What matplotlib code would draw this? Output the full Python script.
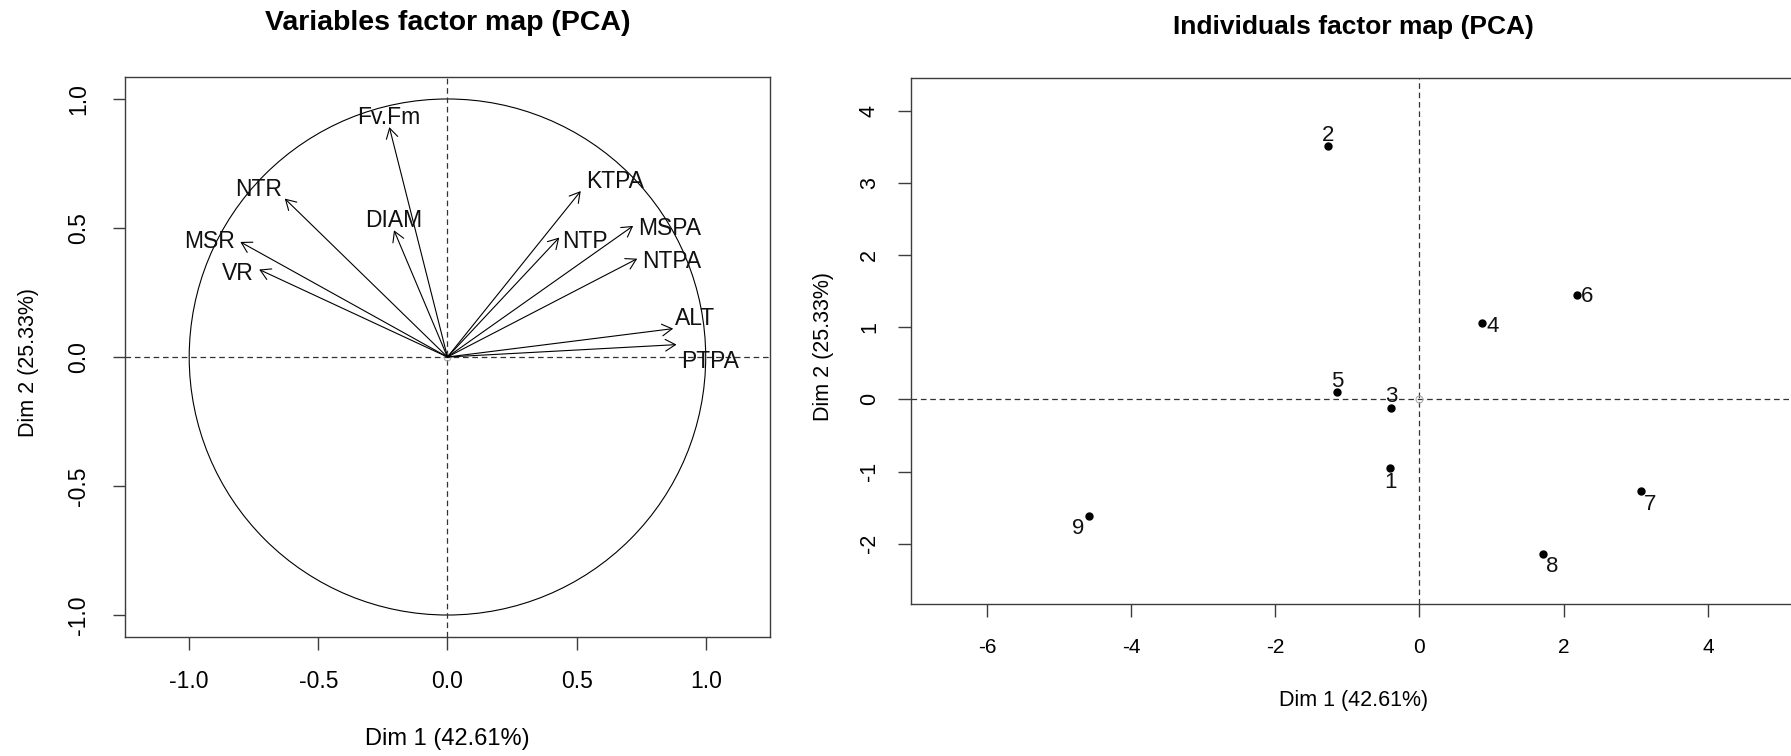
import matplotlib
matplotlib.use("Agg")
import matplotlib.pyplot as plt
from matplotlib.patches import Circle
from matplotlib import font_manager

# ---- variables (correlation circle) ----
var_names = ["Fv.Fm", "NTR", "DIAM", "MSR", "VR", "KTPA", "NTP", "MSPA", "NTPA", "ALT", "PTPA"]
var_dim1 = [-0.225, -0.630, -0.207, -0.802, -0.729, 0.516, 0.433, 0.719, 0.735, 0.874, 0.887]
var_dim2 = [0.891, 0.614, 0.491, 0.446, 0.339, 0.643, 0.463, 0.508, 0.381, 0.110, 0.048]

# ---- individuals ----
ind_names = ["1", "2", "3", "4", "5", "6", "7", "8", "9"]
ind_dim1 = [-0.409, -1.265, -0.391, 0.862, -1.140, 2.183, 3.068, 1.709, -4.577]
ind_dim2 = [-0.956, 3.510, -0.116, 1.054, 0.097, 1.449, -1.266, -2.138, -1.616]

dim1_label = "Dim 1 (42.61%)"
dim2_label = "Dim 2 (25.33%)"
var_ticks = [-1.0, -0.5, 0.0, 0.5, 1.0]
ind_xticks = [-6, -4, -2, 0, 2, 4]
ind_yticks = [-2, -1, 0, 1, 2, 3, 4]

# label placement (pixel offsets from each mark, x right / y up)
var_label_off = {"Fv.Fm": (-1, 10), "NTR": (-26, 9), "DIAM": (0, 10), "MSR": (-31, 0),
                 "VR": (-21, -4), "KTPA": (34, 10), "NTP": (26, -4), "MSPA": (36, -3),
                 "NTPA": (34, -3), "ALT": (22, 10), "PTPA": (34, -17)}
ind_label_off = {"1": (0, -14), "2": (0, 10), "3": (0, 11), "4": (11.5, -3), "5": (0, 10.5),
                 "6": (10.5, -2), "7": (9.5, -13.3), "8": (9.5, -13), "9": (-11.5, -13)}

plt.rcParams["font.family"] = ["Liberation Sans", "DejaVu Sans"]
plt.rcParams["axes.unicode_minus"] = False
_names = {f.name for f in font_manager.fontManager.ttflist}
narrow = "Liberation Sans Narrow" if "Liberation Sans Narrow" in _names else "Liberation Sans"

W, H, DPI = 1791, 756, 100
PX = 72.0 / DPI  # pixels -> points
fig = plt.figure(figsize=(W / DPI, H / DPI), dpi=DPI)
fig.patch.set_facecolor("white")

spine_col = "#3c3c3c"
dash_col = "#333333"
dash = (0, (4.5, 3))


def style_axes(ax):
    for s in ax.spines.values():
        s.set_color(spine_col)
        s.set_linewidth(1.0)


# ================= Variables factor map =================
axL = fig.add_axes([124.9 / W, 1 - 636.7 / H, 645.1 / W, 559.4 / H])
axL.set_xlim(-1.249, 1.249)
axL.set_ylim(-1.084, 1.084)
style_axes(axL)

axL.add_patch(Circle((0, 0), 1.0, fill=False, lw=0.8, color="black"))
axL.axhline(0, color=dash_col, lw=0.9, ls=dash)
axL.axvline(0, color=dash_col, lw=0.9, ls=dash)
axL.plot([0], [0], "o", ms=5, mfc="none", mec="#aaaaaa", mew=0.8)

for name, x, y in zip(var_names, var_dim1, var_dim2):
    axL.annotate("", xy=(x, y), xytext=(0, 0),
                 arrowprops=dict(arrowstyle="->,head_length=0.36,head_width=0.21",
                                 lw=0.8, color="black", shrinkA=0, shrinkB=0,
                                 mutation_scale=20))
    dx, dy = var_label_off[name]
    axL.annotate(name, (x, y), xytext=(dx * PX, dy * PX), textcoords="offset points",
                 ha="center", va="center", fontsize=16.5, color="#111111")

axL.set_xticks(var_ticks)
axL.set_xticklabels([f"{t:.1f}" for t in var_ticks], fontsize=16.5)
axL.set_yticks(var_ticks)
axL.set_yticklabels([f"{t:.1f}" for t in var_ticks], fontsize=16.5, rotation=90,
                    va="center", family=[narrow, "DejaVu Sans"])
axL.tick_params(axis="x", length=12.7 * PX, width=1.0, color=spine_col, pad=20.6 * PX)
axL.tick_params(axis="y", length=11.6 * PX, width=1.0, color=spine_col, pad=23 * PX)

axL.text(0.5, 1.0846, "Variables factor map (PCA)", transform=axL.transAxes,
         ha="center", va="baseline", fontsize=20.5, fontweight="bold")
axL.text(0.5, -0.183, dim1_label, transform=axL.transAxes, ha="center", va="center",
         fontsize=17)
axL.text(-0.1497, 0.49, dim2_label, transform=axL.transAxes, ha="center", va="center",
         rotation=90, fontsize=15.5)

# ================= Individuals factor map =================
x0, x1 = 910.6, float(W)
axR = fig.add_axes([x0 / W, 1 - 604.3 / H, (x1 - x0) / W, 526.0 / H])
axR.set_xlim(-7.058, (x1 - 1419.5) / 72.1)
axR.set_ylim(-2.839, 4.446)
style_axes(axR)
axR.spines["right"].set_visible(False)

axR.axhline(0, color=dash_col, lw=0.9, ls=dash)
axR.axvline(0, color=dash_col, lw=0.9, ls=dash)
axR.plot([0], [0], "o", ms=5, mfc="none", mec="#aaaaaa", mew=0.8)
axR.plot(ind_dim1, ind_dim2, "o", ms=5, color="black", ls="none")
for name, x, y in zip(ind_names, ind_dim1, ind_dim2):
    dx, dy = ind_label_off[name]
    axR.annotate(name, (x, y), xytext=(dx * PX, dy * PX), textcoords="offset points",
                 ha="center", va="center", fontsize=16, color="#111111")

axR.set_xticks(ind_xticks)
axR.set_xticklabels([str(t) for t in ind_xticks], fontsize=15)
axR.set_yticks(ind_yticks)
axR.set_yticklabels([str(t) for t in ind_yticks], fontsize=15.5, rotation=90, va="center")
axR.tick_params(axis="x", length=13 * PX, width=1.0, color=spine_col, pad=21 * PX)
axR.tick_params(axis="y", length=13.3 * PX, width=1.0, color=spine_col, pad=17.4 * PX)

cx = (1353.6 - x0) / (x1 - x0)
axR.text(cx, 1.0837, "Individuals factor map (PCA)", transform=axR.transAxes,
         ha="center", va="baseline", fontsize=19, fontweight="bold")
axR.text(cx, -0.182, dim1_label, transform=axR.transAxes, ha="center", va="center",
         fontsize=15.5)
axR.text((824 - x0) / (x1 - x0), 0.49, dim2_label, transform=axR.transAxes,
         ha="center", va="center", rotation=90, fontsize=15.5)

fig.savefig("out.png", dpi=DPI, facecolor="white")
